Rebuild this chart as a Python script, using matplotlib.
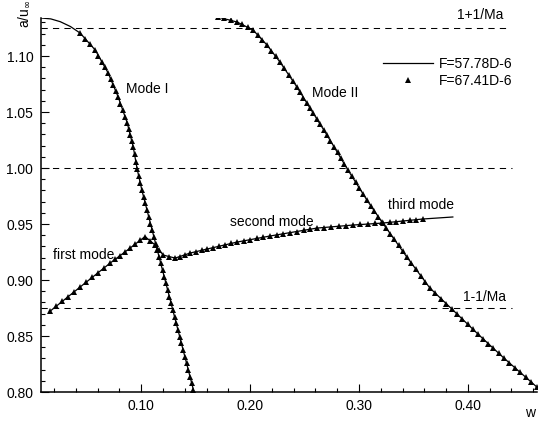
import numpy as np
import matplotlib
matplotlib.use("Agg")
import matplotlib.pyplot as plt

plt.rcParams['font.family'] = ['Liberation Sans', 'DejaVu Sans']
plt.rcParams['font.size'] = 10

Ma = 8.0

# solid line, F=57.78D-6
mode1_w = [0.0083, 0.017, 0.0257, 0.035, 0.044, 0.0578, 0.0697, 0.0789, 0.0872, 0.0927,
           0.0963, 0.1006, 0.1117, 0.1243, 0.1288, 0.148]
mode1_a = [1.134, 1.1332, 1.1307, 1.1264, 1.1205, 1.1054, 1.0848, 1.0634, 1.0402, 1.0188,
           0.9991, 0.9804, 0.9384, 0.8911, 0.8741, 0.8018]

low_w = [0.0165, 0.044, 0.0716, 0.0899, 0.1018, 0.1037, 0.1128, 0.1202, 0.1312, 0.145,
         0.1606, 0.1881, 0.2183, 0.2615, 0.2945, 0.322, 0.3587, 0.3862]
low_a = [0.8723, 0.8938, 0.9152, 0.9286, 0.9375, 0.9387, 0.9313, 0.9223, 0.9196, 0.9241,
         0.9277, 0.9339, 0.9393, 0.9464, 0.9491, 0.9509, 0.9545, 0.9563]

mode2_w = [0.1706, 0.1881, 0.2028, 0.2156, 0.2275, 0.2431, 0.255, 0.2706, 0.2899, 0.3073,
           0.3211, 0.344, 0.3651, 0.3853, 0.4092, 0.4330, 0.4633]
mode2_a = [1.1348, 1.1304, 1.1232, 1.1098, 1.0946, 1.0723, 1.0536, 1.0295, 0.9982, 0.9714,
           0.9518, 0.9205, 0.8929, 0.8741, 0.8518, 0.8304, 0.8045]

# triangles, F=67.41D-6
tri1_w = [0.0440, 0.0486, 0.0532, 0.0578, 0.0608, 0.0637, 0.0667, 0.0697, 0.0720, 0.0743,
          0.0766, 0.0789, 0.0810, 0.0831, 0.0851, 0.0872, 0.0886, 0.0900, 0.0913, 0.0927,
          0.0939, 0.0951, 0.0963, 0.0977, 0.0992, 0.1006, 0.1022, 0.1038, 0.1054, 0.1070,
          0.1085, 0.1101, 0.1117, 0.1133, 0.1149, 0.1164, 0.1180, 0.1196, 0.1212, 0.1227,
          0.1243, 0.1259, 0.1275, 0.1290, 0.1306, 0.1322, 0.1338, 0.1354, 0.1369, 0.1385,
          0.1401, 0.1417, 0.1433, 0.1448, 0.1464, 0.1480]
tri1_a = [1.1205, 1.1155, 1.1104, 1.1054, 1.1003, 1.0951, 1.0900, 1.0848, 1.0795, 1.0741,
          1.0688, 1.0634, 1.0576, 1.0518, 1.0460, 1.0402, 1.0349, 1.0295, 1.0242, 1.0188,
          1.0122, 1.0057, 0.9991, 0.9929, 0.9866, 0.9804, 0.9744, 0.9684, 0.9624, 0.9564,
          0.9504, 0.9444, 0.9384, 0.9325, 0.9266, 0.9207, 0.9148, 0.9089, 0.9030, 0.8970,
          0.8911, 0.8851, 0.8792, 0.8732, 0.8673, 0.8613, 0.8554, 0.8494, 0.8434, 0.8375,
          0.8315, 0.8256, 0.8196, 0.8137, 0.8077, 0.8018]

tri_low_w = [0.0165, 0.0220, 0.0275, 0.0330, 0.0385, 0.0440, 0.0495, 0.0550, 0.0606, 0.0661,
             0.0716, 0.0762, 0.0808, 0.0853, 0.0899, 0.0945, 0.0991, 0.1037, 0.1083, 0.1128,
             0.1165, 0.1202, 0.1257, 0.1312, 0.1358, 0.1404, 0.1450, 0.1502, 0.1554, 0.1606,
             0.1661, 0.1716, 0.1771, 0.1826, 0.1881, 0.1941, 0.2002, 0.2062, 0.2123, 0.2183,
             0.2245, 0.2306, 0.2368, 0.2430, 0.2491, 0.2553, 0.2615, 0.2681, 0.2747, 0.2813,
             0.2879, 0.2945, 0.3014, 0.3083, 0.3151, 0.3220, 0.3281, 0.3342, 0.3403, 0.3465,
             0.3526, 0.3587]
tri_low_a = [0.8723, 0.8766, 0.8809, 0.8852, 0.8895, 0.8938, 0.8981, 0.9024, 0.9066, 0.9109,
             0.9152, 0.9186, 0.9219, 0.9253, 0.9286, 0.9320, 0.9353, 0.9387, 0.9350, 0.9313,
             0.9268, 0.9223, 0.9205, 0.9196, 0.9205, 0.9225, 0.9241, 0.9253, 0.9265, 0.9277,
             0.9289, 0.9302, 0.9314, 0.9327, 0.9339, 0.9350, 0.9361, 0.9371, 0.9382, 0.9393,
             0.9403, 0.9413, 0.9423, 0.9433, 0.9444, 0.9454, 0.9464, 0.9469, 0.9475, 0.9480,
             0.9486, 0.9491, 0.9496, 0.9500, 0.9505, 0.9509, 0.9515, 0.9521, 0.9527, 0.9533,
             0.9539, 0.9545]

tri2_w = [0.1706, 0.1764, 0.1823, 0.1881, 0.1930, 0.1979, 0.2028, 0.2071, 0.2114, 0.2156,
          0.2196, 0.2235, 0.2275, 0.2314, 0.2353, 0.2392, 0.2431, 0.2461, 0.2490, 0.2520,
          0.2550, 0.2581, 0.2612, 0.2644, 0.2675, 0.2706, 0.2738, 0.2770, 0.2803, 0.2835,
          0.2867, 0.2899, 0.2934, 0.2969, 0.3003, 0.3038, 0.3073, 0.3108, 0.3142, 0.3177,
          0.3211, 0.3249, 0.3287, 0.3325, 0.3364, 0.3402, 0.3440, 0.3482, 0.3524, 0.3567,
          0.3609, 0.3651, 0.3702, 0.3752, 0.3803, 0.3853, 0.3901, 0.3949, 0.3997, 0.4044,
          0.4092, 0.4140, 0.4187, 0.4235, 0.4282, 0.4330, 0.4381, 0.4431, 0.4482, 0.4532,
          0.4583, 0.4633]
tri2_a = [1.1348, 1.1336, 1.1321, 1.1304, 1.1283, 1.1259, 1.1232, 1.1190, 1.1144, 1.1098,
          1.1047, 1.0997, 1.0946, 1.0890, 1.0835, 1.0779, 1.0723, 1.0676, 1.0630, 1.0583,
          1.0536, 1.0488, 1.0440, 1.0391, 1.0343, 1.0295, 1.0243, 1.0191, 1.0139, 1.0086,
          1.0034, 0.9982, 0.9928, 0.9875, 0.9821, 0.9768, 0.9714, 0.9665, 0.9616, 0.9567,
          0.9518, 0.9466, 0.9414, 0.9362, 0.9309, 0.9257, 0.9205, 0.9150, 0.9095, 0.9039,
          0.8984, 0.8929, 0.8882, 0.8835, 0.8788, 0.8741, 0.8696, 0.8652, 0.8607, 0.8563,
          0.8518, 0.8475, 0.8432, 0.8390, 0.8347, 0.8304, 0.8261, 0.8218, 0.8175, 0.8131,
          0.8088, 0.8045]

ref_levels = [1 + 1 / Ma, 1.0, 1 - 1 / Ma]
ref_end = [0.4385, 0.441, 0.441]

xmin, xmax = 0.008, 0.4635
ymin, ymax = 0.80, 1.134

fig = plt.figure(figsize=(5.41, 4.21), dpi=100)
ax = fig.add_axes([41 / 541, 29 / 421, 496 / 541, 374 / 421])

for lev, xe in zip(ref_levels, ref_end):
    ax.plot([xmin, xe], [lev, lev], color='black', lw=0.75, linestyle=(0, (6, 5)))

ln, = ax.plot(mode1_w, mode1_a, color='black', lw=0.9)
ax.plot(low_w, low_a, color='black', lw=0.9)
ax.plot(mode2_w, mode2_a, color='black', lw=0.9)

mk, = ax.plot(tri1_w, tri1_a, ls='none', marker='^', ms=4.0, mew=0, color='black')
ax.plot(tri_low_w, tri_low_a, ls='none', marker='^', ms=4.0, mew=0, color='black')
ax.plot(tri2_w, tri2_a, ls='none', marker='^', ms=4.0, mew=0, color='black')

ax.set_xlim(xmin, xmax)
ax.set_ylim(ymin, ymax)
ax.set_xticks([0.10, 0.20, 0.30, 0.40])
ax.set_xticks(np.arange(0.02, 0.461, 0.02), minor=True)
ax.set_yticks([0.80, 0.85, 0.90, 0.95, 1.00, 1.05, 1.10])
ax.set_yticks(np.arange(0.81, 1.131, 0.01), minor=True)
ax.xaxis.set_major_formatter(matplotlib.ticker.FormatStrFormatter('%.2f'))
ax.yaxis.set_major_formatter(matplotlib.ticker.FormatStrFormatter('%.2f'))
ax.tick_params(which='major', direction='in', length=6, width=0.8, labelsize=10)
ax.tick_params(which='minor', direction='in', length=3, width=0.8)
ax.tick_params(axis='y', pad=5.5)
ax.tick_params(axis='x', pad=5)
ax.spines['top'].set_visible(False)
ax.spines['right'].set_visible(False)
ax.spines['left'].set_linewidth(1.1)
ax.spines['bottom'].set_linewidth(1.1)

ax.text(0.0862, 1.0705, 'Mode I', va='center', ha='left')
ax.text(0.2569, 1.067, 'Mode II', va='center', ha='left')
ax.text(0.0193, 0.9223, 'first mode', va='center', ha='left')
ax.text(0.1817, 0.952, 'second mode', va='center', ha='left')
ax.text(0.3266, 0.967, 'third mode', va='center', ha='left')
ax.text(0.3899, 1.1366, '1+1/Ma', va='center', ha='left')
ax.text(0.3954, 0.8848, '1-1/Ma', va='center', ha='left')

fig.text(24.5 / 541, 1 - 14 / 421, r'a/u$_\infty$', rotation=90, ha='center', va='center')
fig.text(530 / 541, 1 - 413 / 421, 'w', ha='center', va='center')

ax.legend([ln, mk], ['F=57.78D-6', 'F=67.41D-6'], loc='upper left',
          bbox_to_anchor=(383 / 541, 1 - 57 / 421), bbox_transform=fig.transFigure,
          frameon=False, borderpad=0, borderaxespad=0, handlelength=3.6,
          handletextpad=0.4, labelspacing=0.2, fontsize=10)

fig.savefig('out.png', dpi=100)
